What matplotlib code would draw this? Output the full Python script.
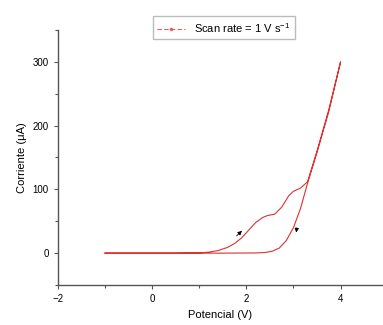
import numpy as np
import matplotlib.pyplot as plt
from matplotlib.ticker import MultipleLocator
from matplotlib.lines import Line2D

plt.rcParams['font.family'] = ['Liberation Sans', 'DejaVu Sans']

# forward scan (oxidation)
fwd_v = [-1.0, 0.0, 0.5, 1.0, 1.2, 1.4, 1.6, 1.75, 1.9, 2.05, 2.2, 2.35, 2.45, 2.6, 2.75, 2.9, 3.0, 3.15, 3.3, 3.5, 3.75, 4.0]
fwd_i = [0, 0, 0, 0.5, 1.5, 4, 9, 15, 24, 36, 48, 56, 59, 61, 72, 90, 97, 102, 112, 160, 225, 300]
# reverse scan
rev_v = [4.0, 3.75, 3.5, 3.3, 3.15, 3.0, 2.85, 2.7, 2.55, 2.4, 2.2, 1.5, 0.5, -1.0]
rev_i = [300, 222, 158, 110, 70, 40, 20, 8, 3, 1, 0.3, 0, 0, 0]

fig = plt.figure(figsize=(3.83, 3.25), dpi=100)
ax = fig.add_axes([0.151, 0.123, 0.849, 0.785])

v = fwd_v + rev_v[1:]
i = fwd_i + rev_i[1:]
ax.plot(v, i, color='#e03030', lw=0.8)

# direction arrows
ax.annotate('', xy=(1.95, 38), xytext=(1.75, 24),
            arrowprops=dict(arrowstyle='-|>', color='black', lw=0.6, mutation_scale=6))
ax.annotate('', xy=(3.05, 28), xytext=(3.08, 44),
            arrowprops=dict(arrowstyle='-|>', color='black', lw=0.6, mutation_scale=6))

ax.set_xlim(-2, 4.9)
ax.set_ylim(-50, 350)
ax.xaxis.set_major_locator(MultipleLocator(2))
ax.xaxis.set_minor_locator(MultipleLocator(1))
ax.yaxis.set_minor_locator(MultipleLocator(50))
ax.set_yticks([0, 100, 200, 300])
ax.tick_params(labelsize=7, length=3, width=0.8, color='#555555')
ax.tick_params(which='minor', length=2, width=0.8, color='#555555')
for s in ['top', 'right']:
    ax.spines[s].set_visible(False)
for s in ['left', 'bottom']:
    ax.spines[s].set_color('#555555')
    ax.spines[s].set_linewidth(1.0)

ax.set_xlabel('Potencial (V)', fontsize=8)
ax.set_ylabel('Corriente (\u03bcA)', fontsize=8)

handle = Line2D([], [], color='#e06060', lw=0.8, ls=(0, (4, 2)), marker='.', markersize=3)
ax.legend([handle], ['Scan rate = 1 V s$^{\\mathregular{-1}}$'], loc='upper center',
          bbox_to_anchor=(0.51, 1.075), fontsize=8, frameon=True, fancybox=False,
          edgecolor='#aaaaaa', handlelength=2.5, borderpad=0.4)

fig.savefig('out.png', dpi=100)
